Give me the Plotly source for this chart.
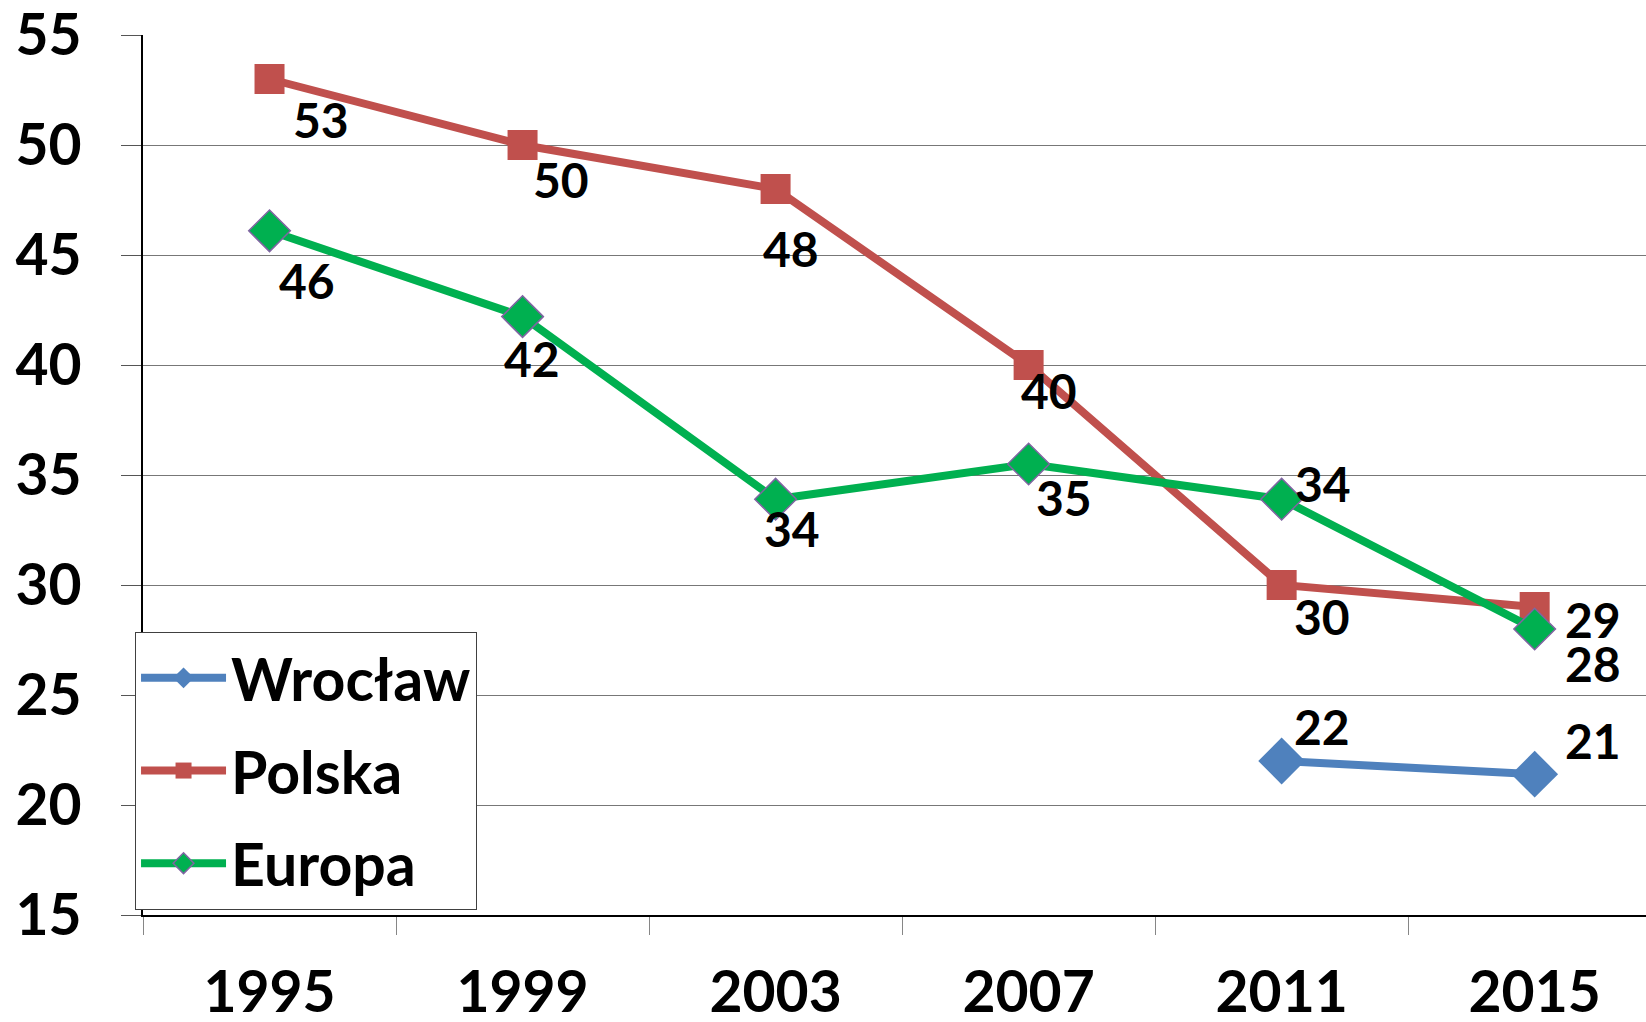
import plotly.graph_objects as go

# Data
years = ["1995", "1999", "2003", "2007", "2011", "2015"]
wroclaw = [None, None, None, None, 22.0, 21.4]
polska = [53, 50, 48, 40, 30, 29]
europa = [46.1, 42.2, 33.9, 35.5, 33.9, 28.0]

wroclaw_labels = ["", "", "", "", "22", "21"]
polska_labels = ["53", "50", "48", "40", "30", "29"]
europa_labels = ["46", "42", "34", "35", "34", "28"]

# label offsets in pixels (dx right, dy down) - manual placement like the original
wroclaw_off = [None, None, None, None, (40, -35), (58, -34)]
polska_off = [(51, 40), (38, 34), (15, 59), (20, 25), (40, 31), (58, 12)]
europa_off = [(37, 50), (9, 42), (16, 29), (35, 33), (41, -16), (58, 34)]

BLUE = "#4F81BD"
RED = "#C0504D"
GREEN = "#00B050"
PURPLE = "#8064A2"
FONT = "Lato"

fig = go.Figure()

fig.add_trace(go.Scatter(
    x=years, y=wroclaw, name="Wrocław", mode="lines+markers",
    line=dict(color=BLUE, width=8),
    marker=dict(symbol="diamond", size=36, color=BLUE),
    legendgroup="a",
))
fig.add_trace(go.Scatter(
    x=years, y=polska, name="Polska", mode="lines+markers",
    line=dict(color=RED, width=8),
    marker=dict(symbol="square", size=30, color=RED),
    legendgroup="b",
))
fig.add_trace(go.Scatter(
    x=years, y=europa, name="Europa", mode="lines+markers",
    line=dict(color=GREEN, width=8),
    marker=dict(symbol="diamond", size=32, color=GREEN,
                line=dict(color=PURPLE, width=1.5)),
    legendgroup="c",
))

# data labels (x given as category index)
for vals, labels, offs in [(wroclaw, wroclaw_labels, wroclaw_off),
                           (polska, polska_labels, polska_off),
                           (europa, europa_labels, europa_off)]:
    for i, (v, t, o) in enumerate(zip(vals, labels, offs)):
        if v is None or o is None:
            continue
        fig.add_annotation(
            x=i, y=v, text=t, showarrow=False,
            xshift=o[0], yshift=-o[1],
            font=dict(family=FONT, size=48, color="black", weight="bold"),
        )

fig.update_layout(
    width=1646, height=1022,
    margin=dict(l=143, r=0, t=35, b=107, autoexpand=False),
    plot_bgcolor="white", paper_bgcolor="white",
    font=dict(family=FONT, color="black", weight="bold"),
    legend=dict(
        x=-0.0053, y=0.3216, xanchor="left", yanchor="top",
        bgcolor="white", bordercolor="#404040", borderwidth=1,
        font=dict(family=FONT, size=59, color="black", weight="bold"),
        itemwidth=85, tracegroupgap=13, traceorder="grouped",
        entrywidth=340,
    ),
    showlegend=True,
)

fig.update_xaxes(
    type="category", range=[-0.5, 5.44],
    tickson="boundaries", ticks="outside", ticklen=18, tickcolor="#868686",
    showgrid=False, showline=True, linecolor="black", linewidth=2,
    tickfont=dict(family=FONT, size=57, weight="bold"),
    ticklabelstandoff=27, automargin=False, ticklabeloverflow="allow",
)
fig.update_yaxes(
    range=[15, 55], dtick=5, tick0=15,
    ticks="outside", ticklen=20, tickcolor="#555555",
    showgrid=True, gridcolor="#777777", gridwidth=1,
    showline=True, linecolor="black", linewidth=2, zeroline=False,
    tickfont=dict(family=FONT, size=57, weight="bold"),
    ticklabelstandoff=28, automargin=False, ticklabeloverflow="allow",
)

# drop the default 8px page margin so the figure sits at the window corner
fig.write_html("out.html", config={"displayModeBar": False},
               post_script="document.body.style.margin='0';")
